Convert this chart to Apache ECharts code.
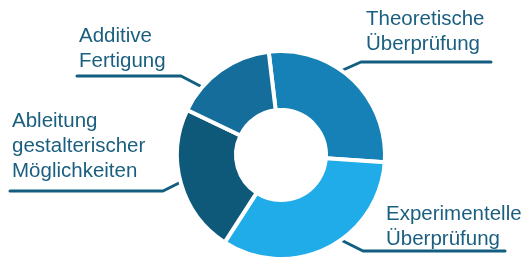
<!DOCTYPE html>
<html>
<head>
<meta charset="utf-8">
<script src="https://cdn.jsdelivr.net/npm/echarts@6/dist/echarts.min.js"></script>
<style>
  html, body { margin: 0; padding: 0; background: #fff; }
  #chart { width: 529px; height: 257px; }
</style>
</head>
<body>
<div id="chart"></div>
<script>
const categories = [
  'Theoretische\nÜberprüfung',
  'Experimentelle\nÜberprüfung',
  'Ableitung\ngestalterischer\nMöglichkeiten',
  'Additive\nFertigung'
];
const shares = [28, 33, 23, 16];

const sliceColors = [ '#1581b6', '#20abe9', '#0e5879', '#146d9b' ];

// label box (top-left) and leader line: anchor, elbow, end
const labelPos = [
  { x: 366, y: 7,   line: [[334, 74], [361, 62], [491, 62]] },
  { x: 386, y: 202, line: [[339, 239], [363, 251], [505, 251]] },
  { x: 12,  y: 109, line: [[181, 182], [163, 191], [10, 191]] },
  { x: 79,  y: 24,  line: [[204, 88], [181, 76], [77, 76]] }
];

const chart = echarts.init(document.getElementById('chart'));

chart.setOption({
  animation: false,
  series: [{
    type: 'pie',
    center: [281, 155],
    radius: [45, 104],
    startAngle: 96.8,
    clockwise: true,
    silent: true,
    itemStyle: { borderColor: '#fff', borderWidth: 4 },
    label: {
      show: true,
      position: 'outside',
      color: '#1a5f7f',
      fontFamily: 'Liberation Sans, Arial, sans-serif',
      fontSize: 20.5,
      lineHeight: 25,
      overflow: 'none',
      width: 200
    },
    labelLine: {
      show: true,
      lineStyle: { color: '#125d80', width: 3, cap: 'round', join: 'round' }
    },
    labelLayout: params => {
      const p = labelPos[params.dataIndex];
      return {
        x: p.x,
        y: p.y,
        align: 'left',
        verticalAlign: 'top',
        labelLinePoints: p.line
      };
    },
    data: categories.map((name, i) => ({
      name,
      value: shares[i],
      itemStyle: { color: sliceColors[i] }
    }))
  }]
});
</script>
</body>
</html>
